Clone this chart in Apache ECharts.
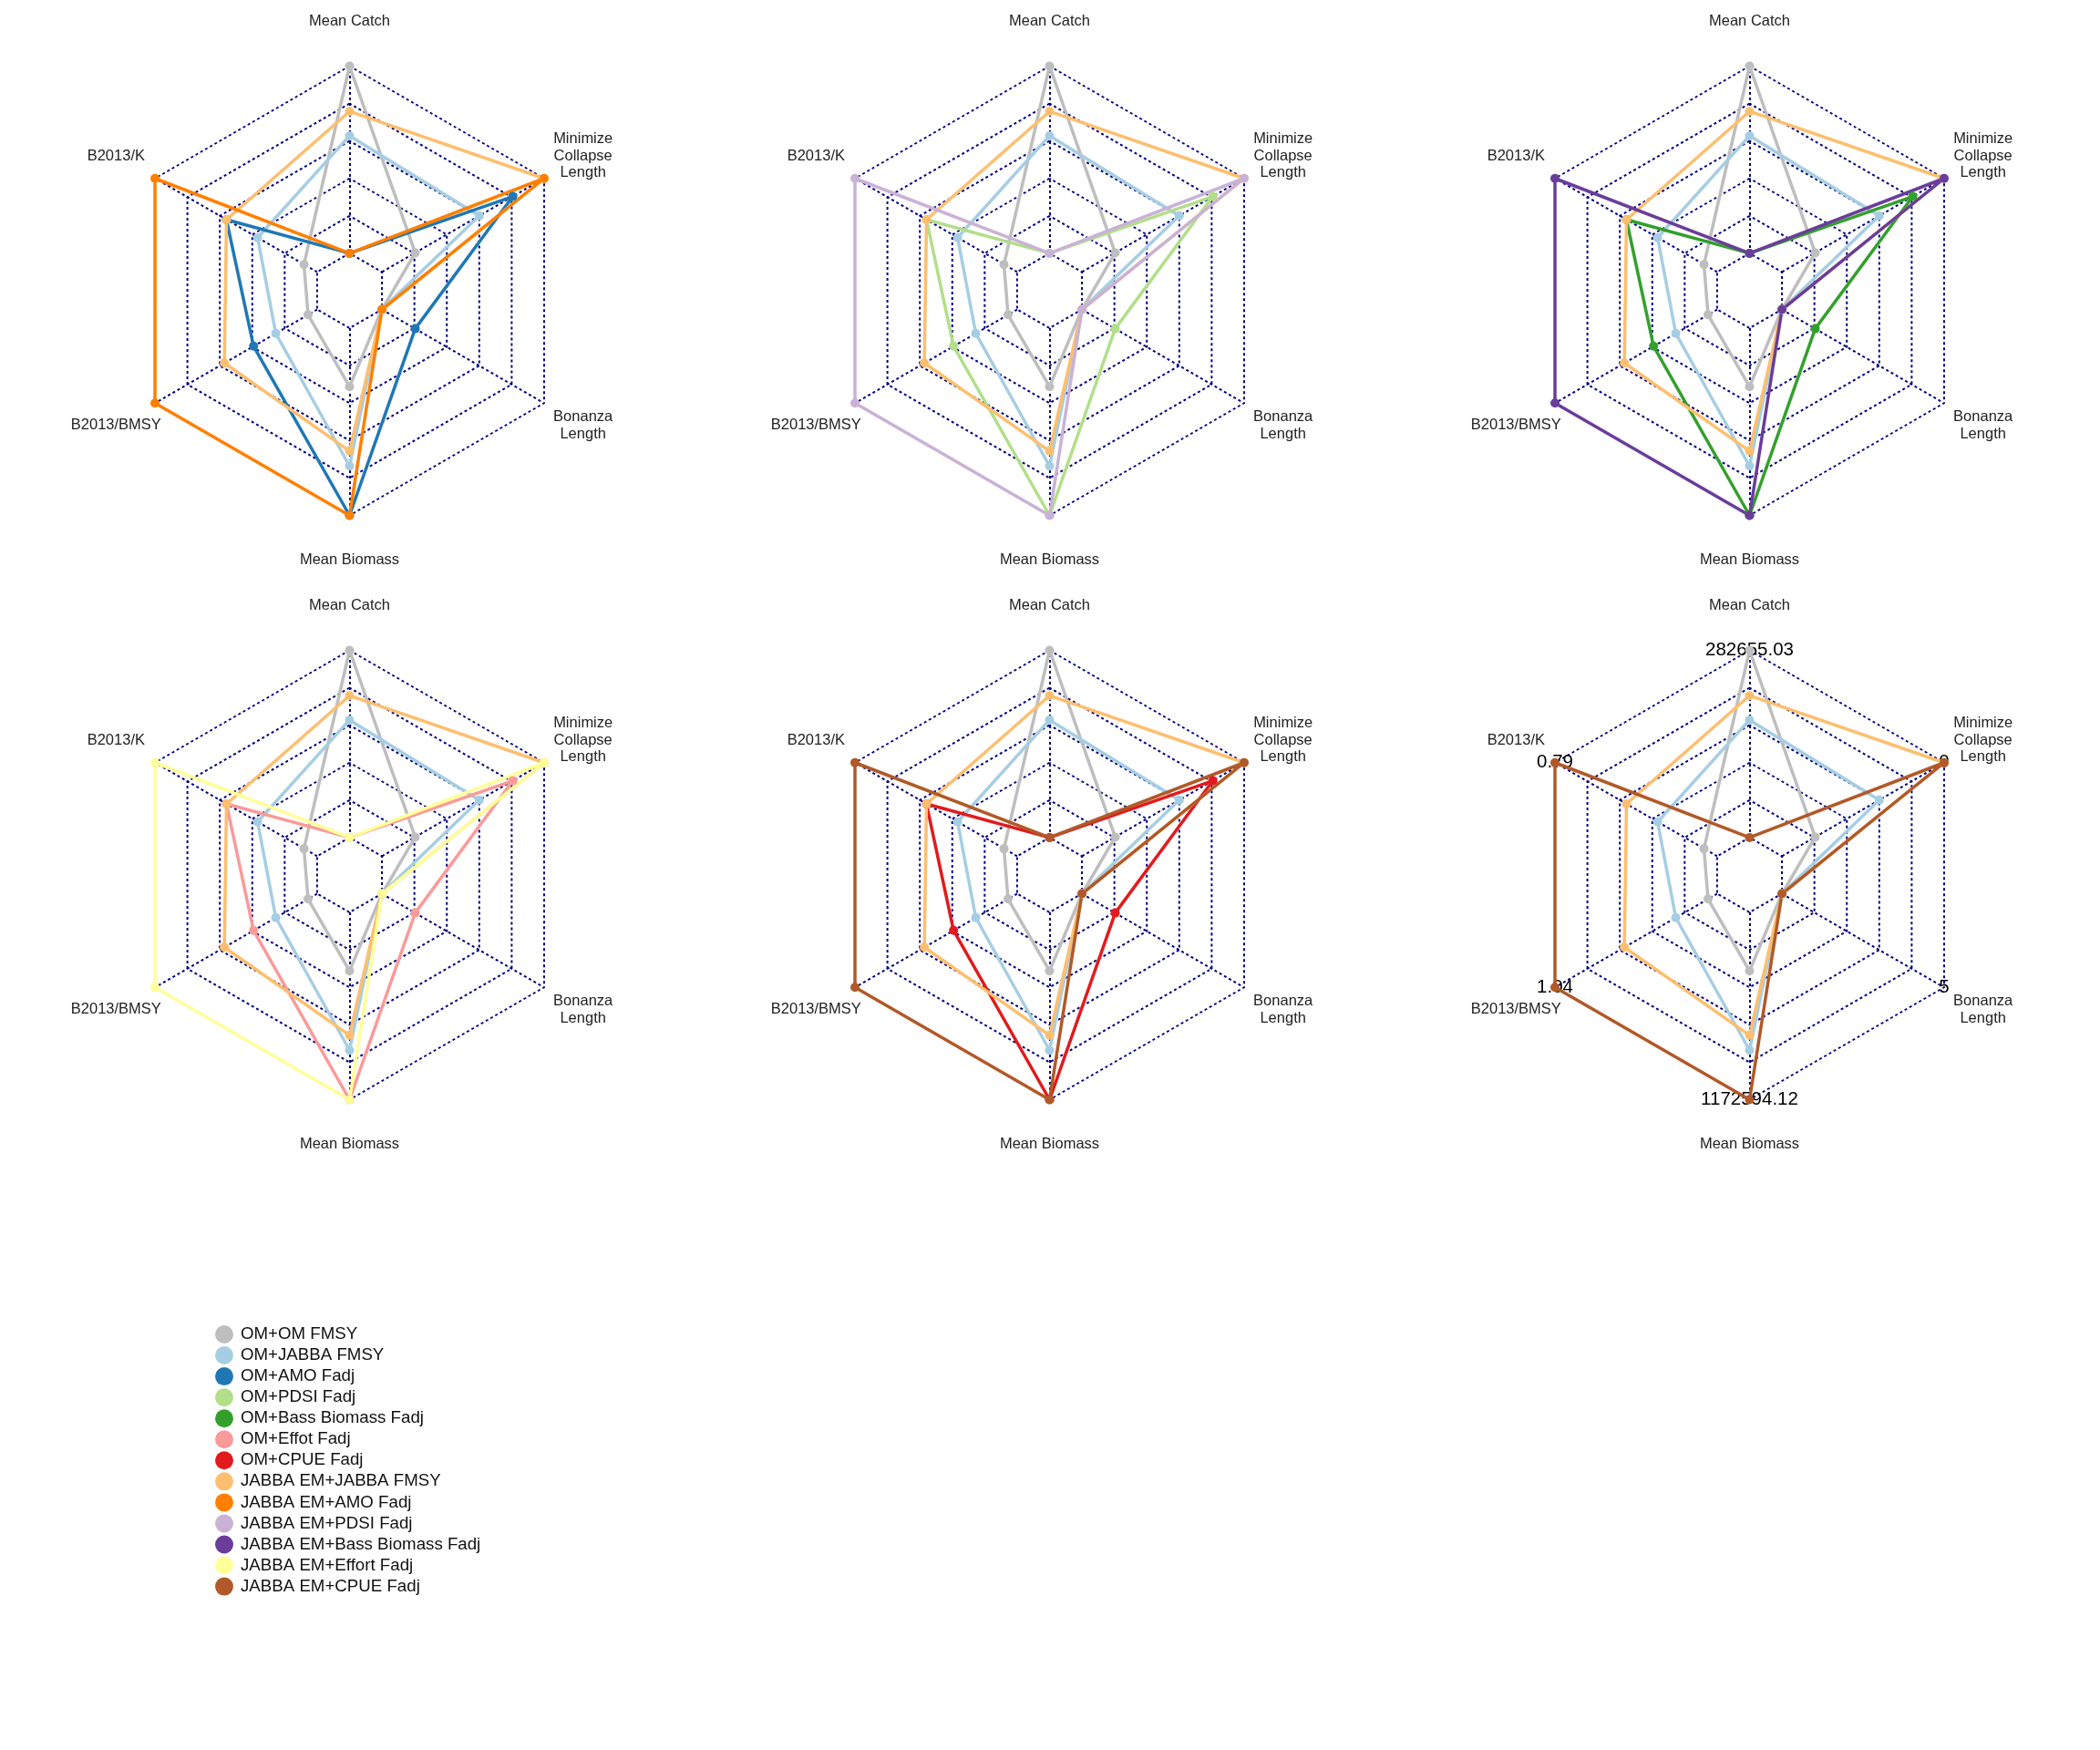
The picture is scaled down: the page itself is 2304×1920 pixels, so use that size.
<!DOCTYPE html>
<html>
<head>
<meta charset="utf-8">
<script src="https://cdn.jsdelivr.net/npm/echarts@6/dist/echarts.min.js"></script>
<style>
html,body{margin:0;padding:0;background:#ffffff;}
#chart{width:2304px;height:1920px;}
</style>
</head>
<body>
<div id="chart"></div>
<script>
// Axes in drawing order (counter-clockwise from the top)
const axisNames = ['Mean Catch', 'B2013/K', 'B2013/BMSY', 'Mean Biomass', 'Bonanza\nLength', 'Minimize\nCollapse\nLength'];
// Maximum of each axis, printed on the outer ring of the last panel
const axisMaxLabels = ['282655.03', '0.79', '1.04', '1172594.12', '5', '0'];

// Series (legend order)
const seriesNames = [
  'OM+OM FMSY', 'OM+JABBA FMSY', 'OM+AMO Fadj', 'OM+PDSI Fadj', 'OM+Bass Biomass Fadj',
  'OM+Effot Fadj', 'OM+CPUE Fadj', 'JABBA EM+JABBA FMSY', 'JABBA EM+AMO Fadj',
  'JABBA EM+PDSI Fadj', 'JABBA EM+Bass Biomass Fadj', 'JABBA EM+Effort Fadj', 'JABBA EM+CPUE Fadj'
];
const seriesColors = [
  '#BEBEBE', '#A6CEE3', '#1F78B4', '#B2DF8A', '#33A02C',
  '#FB9A99', '#E31A1C', '#FDBF6F', '#FF7F00',
  '#CAB2D6', '#6A3D9A', '#FFFF99', '#B15928'
];

// Scaled values (0 = axis minimum, 1 = axis maximum), in axis order above
const omOmFmsy        = [1.000, 0.081, 0.056, 0.312, 0.000, 0.205];
const omJabbaFmsy     = [0.628, 0.367, 0.255, 0.736, 0.000, 0.600];
const omAmoFadj       = [0.000, 0.559, 0.392, 1.000, 0.205, 0.807];
const omPdsiFadj      = [0.000, 0.559, 0.392, 1.000, 0.205, 0.807];
const omBassFadj      = [0.000, 0.559, 0.392, 1.000, 0.205, 0.807];
const omEffotFadj     = [0.000, 0.559, 0.392, 1.000, 0.205, 0.807];
const omCpueFadj      = [0.000, 0.559, 0.392, 1.000, 0.205, 0.807];
const emJabbaFmsy     = [0.758, 0.559, 0.572, 0.656, 0.000, 1.000];
const emAmoFadj       = [0.000, 1.000, 1.000, 1.000, 0.000, 1.000];
const emPdsiFadj      = [0.000, 1.000, 1.000, 1.000, 0.000, 1.000];
const emBassFadj      = [0.000, 1.000, 1.000, 1.000, 0.000, 1.000];
const emEffortFadj    = [0.000, 1.000, 1.000, 1.000, 0.000, 1.000];
const emCpueFadj      = [0.000, 1.000, 1.000, 1.000, 0.000, 1.000];

const seriesValues = {
  'OM+OM FMSY': omOmFmsy,
  'OM+JABBA FMSY': omJabbaFmsy,
  'OM+AMO Fadj': omAmoFadj,
  'OM+PDSI Fadj': omPdsiFadj,
  'OM+Bass Biomass Fadj': omBassFadj,
  'OM+Effot Fadj': omEffotFadj,
  'OM+CPUE Fadj': omCpueFadj,
  'JABBA EM+JABBA FMSY': emJabbaFmsy,
  'JABBA EM+AMO Fadj': emAmoFadj,
  'JABBA EM+PDSI Fadj': emPdsiFadj,
  'JABBA EM+Bass Biomass Fadj': emBassFadj,
  'JABBA EM+Effort Fadj': emEffortFadj,
  'JABBA EM+CPUE Fadj': emCpueFadj
};

// Which series appear in each panel (drawing order)
const panelSeries = [
  ['OM+OM FMSY', 'OM+JABBA FMSY', 'OM+AMO Fadj', 'JABBA EM+JABBA FMSY', 'JABBA EM+AMO Fadj'],
  ['OM+OM FMSY', 'OM+JABBA FMSY', 'OM+PDSI Fadj', 'JABBA EM+JABBA FMSY', 'JABBA EM+PDSI Fadj'],
  ['OM+OM FMSY', 'OM+JABBA FMSY', 'OM+Bass Biomass Fadj', 'JABBA EM+JABBA FMSY', 'JABBA EM+Bass Biomass Fadj'],
  ['OM+OM FMSY', 'OM+JABBA FMSY', 'OM+Effot Fadj', 'JABBA EM+JABBA FMSY', 'JABBA EM+Effort Fadj'],
  ['OM+OM FMSY', 'OM+JABBA FMSY', 'OM+CPUE Fadj', 'JABBA EM+JABBA FMSY', 'JABBA EM+CPUE Fadj'],
  ['OM+OM FMSY', 'OM+JABBA FMSY', 'JABBA EM+JABBA FMSY', 'JABBA EM+CPUE Fadj']
];

// ---------- layout / style ----------
const FONT = "'Liberation Sans', Arial, Helvetica, sans-serif";
const R = 246.5;
const colX = [383.5, 1151.5, 1919.5];
const rowY = [319, 960];
const gridLine = { color: '#000080', width: 2, type: [3, 3], cap: 'butt' };
// radial lines: empty inside the innermost ring (R/6), dotted beyond it
const innerGap = R / 6;
const radialDash = [];
for (let k = 0; k < 33; k++) { radialDash.push(3, 3); }
radialDash.push(3, 3 + innerGap);
const radialPeriod = radialDash.reduce(function (a, b) { return a + b; }, 0);
const radialLine = { color: '#000080', width: 2, type: radialDash, dashOffset: radialPeriod - innerGap, cap: 'butt' };

const radars = [];
const series = [];
panelSeries.forEach(function (names, p) {
  const cx = colX[p % 3];
  const cy = rowY[Math.floor(p / 3)];
  const showMax = (p === 5);
  radars.push({
    center: [cx, cy],
    radius: R,
    startAngle: 90,
    shape: 'polygon',
    splitNumber: 6,
    nameGap: R * 0.2,
    axisName: {
      color: '#222222', fontSize: 16.5, fontFamily: FONT,
      align: 'center', verticalAlign: 'middle', lineHeight: 18.3, padding: [6, 0, 0, 0]
    },
    indicator: axisNames.map(function (n, i) {
      const ind = { name: n, min: -0.2, max: 1 };
      if (showMax) {
        ind.axisLabel = {
          show: true, margin: 0, color: '#000000', fontSize: 20.5, fontFamily: FONT,
          align: 'center', verticalAlign: 'middle', showMaxLabel: true, showMinLabel: false,
          padding: [8, 0, 0, 0],
          formatter: function (v) { return v > 0.99 ? axisMaxLabels[i] : ''; }
        };
      }
      return ind;
    }),
    axisLine: { show: true, lineStyle: radialLine },
    axisTick: { show: false },
    axisLabel: { show: false },
    splitLine: { show: true, lineStyle: gridLine },
    splitArea: { show: false }
  });
  series.push({
    type: 'radar',
    radarIndex: p,
    symbol: 'circle',
    symbolSize: 10,
    silent: true,
    emphasis: { disabled: true },
    data: names.map(function (n) {
      const c = seriesColors[seriesNames.indexOf(n)];
      return {
        name: n,
        value: seriesValues[n],
        lineStyle: { color: c, width: 3.5 },
        itemStyle: { color: c },
        areaStyle: { opacity: 0 }
      };
    })
  });
});

const chart = echarts.init(document.getElementById('chart'), null, { renderer: 'canvas' });
chart.setOption({
  animation: false,
  backgroundColor: '#ffffff',
  textStyle: { fontFamily: FONT },
  legend: {
    orient: 'vertical',
    left: 236,
    top: 1454,
    padding: 0,
    itemWidth: 20,
    itemHeight: 20,
    itemGap: 3.05,
    icon: 'circle',
    selectedMode: false,
    data: seriesNames,
    textStyle: { fontSize: 18.7, color: '#111111', fontFamily: FONT, lineHeight: 20, padding: [0, 0, 0, 3] }
  },
  radar: radars,
  series: series
});
</script>
</body>
</html>
